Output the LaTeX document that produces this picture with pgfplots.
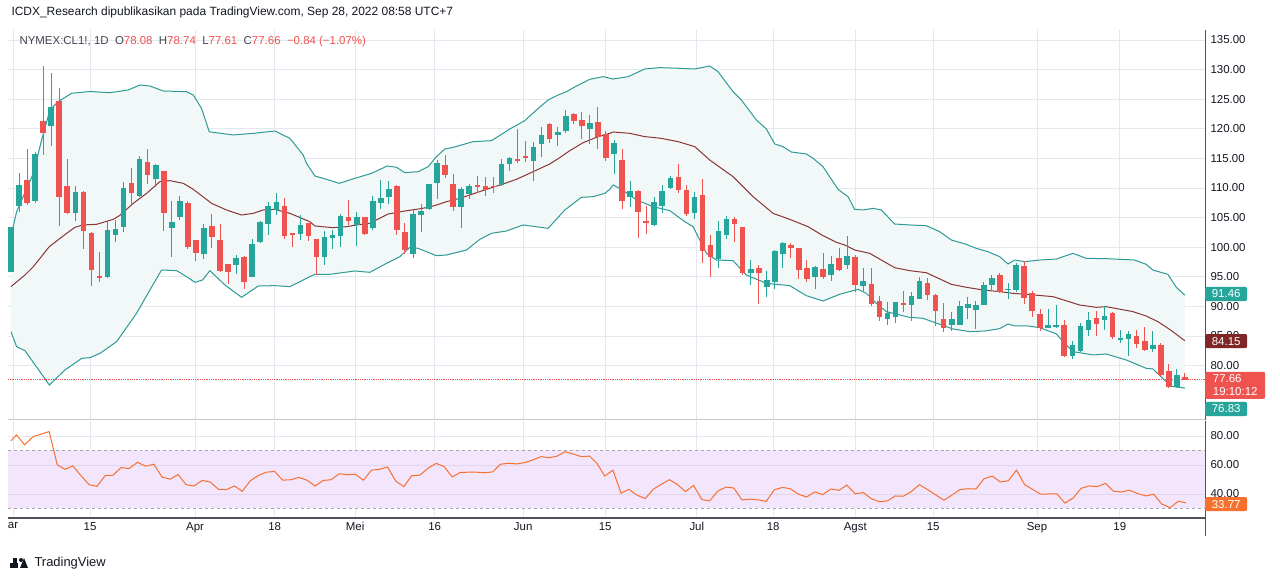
\documentclass[border=0pt]{standalone}
\usepackage{pgfplots}
\usepackage{pgfplotstable}
\usepackage{fontspec}
\setmainfont{Liberation Sans}
\pgfplotsset{compat=1.18}
\definecolor{tvup}{HTML}{26A69A}
\definecolor{tvdn}{HTML}{EF5350}
\definecolor{tvband}{HTML}{2E9A96}
\definecolor{tvmid}{HTML}{8A3535}
\definecolor{tvfill}{HTML}{F2F8F8}
\definecolor{tvgrid}{HTML}{E3E8EF}
\definecolor{tvtxt}{HTML}{131722}
\definecolor{tvrsi}{HTML}{F7702E}
\definecolor{tvrsibg}{HTML}{F3E5FC}
\definecolor{tvdash}{HTML}{A8A5B0}
\definecolor{tvrsigrid}{HTML}{E2D6EE}
\definecolor{tvmidlab}{HTML}{7F2626}
\definecolor{tvaxis}{HTML}{50535E}
% rising candles (close >= open)
\pgfplotstableread{
i o h l c
0 95.87 103.5 95.8 103.47
1 107.02 112.48 106.0 110.51
3 107.86 116.03 107.4 115.75
5 120.53 129.37 117.15 123.63
8 105.84 110.34 104.43 109.38
12 95.03 104.3 94.86 102.91
13 102.1 104.6 100.88 103.08
14 103.47 111.07 102.52 110.0
16 108.65 115.41 108.54 114.85
18 111.58 114.0 110.23 113.89
20 103.3 107.8 98.4 104.2
21 105.1 108.65 104.54 107.75
24 98.8 103.9 97.96 103.2
28 97.0 98.7 95.4 98.1
30 95.03 101.33 95.03 100.55
31 100.83 104.37 100.66 104.26
32 103.98 107.58 102.1 107.02
33 106.3 109.1 105.45 107.58
36 102.23 105.4 101.17 103.75
39 98.4 102.75 97.0 101.67
40 101.61 102.9 99.7 102.0
41 101.95 105.6 100.1 105.27
43 103.75 105.9 100.2 105.05
45 103.2 108.7 102.9 107.8
46 107.53 111.36 106.46 108.26
47 108.54 111.19 107.3 109.84
50 98.86 106.29 98.24 105.6
51 105.44 107.3 102.63 106.18
52 106.46 110.68 106.29 110.62
53 110.9 114.73 108.15 114.28
56 106.85 110.23 103.3 109.84
57 109.0 110.62 108.2 110.4
61 110.51 114.9 110.34 114.0
62 114.06 115.3 112.93 115.13
65 114.62 117.7 111.24 116.87
66 117.44 120.36 115.18 118.9
68 118.96 120.36 117.15 119.4
69 119.69 123.18 119.35 122.17
72 119.97 122.33 117.44 120.93
75 115.75 118.11 112.37 117.66
77 108.54 111.19 106.85 109.5
80 103.75 108.43 103.64 107.58
81 107.02 110.51 105.72 109.5
82 110.06 112.09 109.78 111.64
85 105.84 109.27 104.71 108.43
88 97.96 104.43 96.55 102.75
89 102.07 105.27 101.39 104.77
92 95.7 97.84 93.62 96.32
94 93.34 95.98 91.65 94.46
95 94.18 99.53 92.89 99.42
96 98.8 100.94 96.55 100.77
100 94.91 96.83 92.94 96.6
102 95.3 98.52 94.35 97.1
104 97.0 101.9 96.32 98.52
106 93.45 96.55 92.67 94.29
109 87.88 90.7 86.87 88.83
110 88.27 90.7 87.26 90.7
112 90.24 92.5 87.6 91.82
113 91.26 95.03 91.26 94.29
117 86.87 89.0 85.9 87.94
118 86.87 90.92 86.87 90.07
119 89.79 91.6 87.88 90.41
120 89.4 90.92 86.19 90.24
121 90.24 94.07 90.24 93.62
122 93.62 95.3 92.78 94.86
124 92.83 93.9 91.2 92.94
125 92.78 97.28 92.5 97.0
129 86.42 89.56 86.3 86.87
130 86.58 90.24 86.3 86.87
132 81.69 84.16 81.12 83.49
133 82.53 87.15 82.36 86.7
134 86.02 89.0 85.0 87.71
136 87.71 90.07 86.02 88.38
138 84.33 86.02 83.88 84.61
139 84.5 85.85 81.69 85.29
142 82.81 85.85 82.36 83.49
145 76.34 79.44 76.28 78.42
}\candup
% falling candles (close < open)
\pgfplotstableread{
i o h l c
2 111.36 116.59 107.13 107.53
4 121.38 130.61 115.58 119.35
6 124.7 126.84 103.64 108.54
7 110.34 114.9 105.56 105.84
9 109.27 109.5 99.7 102.8
10 102.35 102.6 93.5 96.15
11 95.14 99.25 94.07 94.86
15 110.79 113.44 107.25 109.22
17 114.4 116.59 110.68 112.26
19 112.82 112.82 102.8 105.84
22 107.5 107.8 99.7 100.0
23 101.22 101.22 97.73 99.08
25 103.58 105.6 99.93 101.78
26 101.17 103.87 95.76 96.04
27 97.1 97.1 93.8 95.87
29 98.35 98.57 92.94 94.2
34 106.96 108.37 101.39 101.95
35 102.4 102.4 99.98 102.23
37 104.15 104.15 101.1 101.95
38 101.39 101.39 95.3 98.4
42 105.05 107.98 103.75 104.5
44 105.05 105.05 102.07 102.23
48 110.4 110.51 102.07 102.91
49 102.5 104.04 98.86 99.53
54 113.89 115.58 111.75 112.2
55 110.68 112.37 106.12 106.85
58 110.57 112.1 109.1 110.23
59 110.4 111.8 108.7 109.67
60 110.4 111.8 109.2 110.23
63 114.9 119.97 114.28 114.73
64 115.41 117.94 114.45 115.13
67 120.76 120.93 117.55 118.28
70 122.5 122.62 120.81 121.38
71 121.49 122.9 118.28 120.48
73 121.15 123.63 116.59 118.68
74 119.12 119.69 114.56 115.13
76 114.73 116.59 106.46 107.86
78 109.5 109.67 101.61 106.0
79 104.43 106.96 102.23 104.15
83 111.8 114.0 109.22 109.67
84 109.67 110.51 105.27 105.6
86 108.82 111.52 97.39 99.42
87 100.38 102.07 95.03 98.4
90 104.77 105.05 100.94 103.92
91 103.42 103.42 95.3 95.7
93 96.55 97.0 90.41 95.59
97 100.38 100.77 98.24 99.81
98 99.81 99.81 94.58 96.15
99 96.55 97.84 94.18 94.58
101 96.32 99.08 94.63 94.91
103 98.12 99.81 96.04 96.15
105 98.4 98.68 92.5 93.62
107 93.79 96.55 90.07 90.41
108 90.92 91.76 87.54 88.27
111 90.52 92.6 89.12 90.24
114 93.9 94.74 91.09 91.93
115 91.93 92.04 86.75 89.23
116 87.88 90.52 85.74 86.42
123 95.3 95.59 92.21 92.38
126 96.83 97.67 90.41 91.48
127 92.21 92.6 88.27 89.28
128 88.72 89.56 85.85 86.42
131 86.87 87.71 81.52 81.69
135 87.99 89.23 85.06 87.04
137 88.83 89.12 84.5 84.78
140 85.01 86.02 83.04 83.66
141 84.16 86.58 82.53 82.64
143 83.49 83.77 78.25 78.42
144 79.1 80.28 76.28 76.45
146 78.08 78.74 77.61 77.66
}\canddn
\pgfplotstableread{
x y
0 101.8
0.7 106.0
2.78 112.48
3.81 118.1
4.85 123.2
5.88 124.6
7.54 126.0
9.82 126.3
12.31 126.1
14.59 126.56
16.04 127.4
17.28 127.23
18.94 126.39
21.84 126.27
22.67 125.71
23.7 123.46
24.66 119.5
27.64 118.96
30.13 119.24
32.82 119.63
34.69 118.39
36.34 115.58
36.76 114.17
37.8 112.03
39.25 111.47
40.82 110.79
42.77 111.64
44.84 112.48
46.79 113.72
47.95 113.5
48.98 112.6
50.64 112.76
51.89 113.61
52.92 115.3
53.96 116.59
54.99 116.87
57.48 117.83
59.76 118.0
62.04 119.97
63.9 121.38
65.35 123.18
66.8 124.87
68.05 125.71
69.08 126.27
70.33 127.23
71.98 128.36
73.64 128.81
74.89 128.41
76.75 128.81
78.82 130.1
80.69 130.33
83.17 130.22
85.04 130.1
86.9 130.61
87.94 129.65
89.8 126.27
90.84 124.87
92.71 121.49
93.95 119.97
94.99 117.44
96.02 116.99
97.06 116.08
98.92 115.75
99.75 115.02
100.99 113.61
102.86 109.78
104.1 108.54
104.93 106.4
105.97 106.29
107.21 106.57
108.25 106.29
109.9 103.92
111.77 103.76
113.84 103.64
115.5 102.63
116.95 101.22
118.82 100.49
120.06 99.81
121.51 99.25
122.96 98.4
124.0 97.17
124.83 97.84
126.07 97.56
127.94 97.84
130.01 98.01
132.08 98.97
133.74 98.12
136.22 98.07
139.74 97.84
141.19 97.11
142.02 96.15
143.89 95.42
144.93 93.23
146.0 91.9
}\bandup
% lower band, in reverse order (from the last day back to the first)
\pgfplotstableread{
x y
146.0 76.2
144.1 76.56
143.68 77.3
142.02 79.44
141.19 79.55
138.71 80.95
136.22 81.97
134.57 81.8
132.08 82.36
131.05 83.77
130.01 85.35
127.94 86.42
126.49 86.7
124.83 86.7
124.0 87.03
122.96 86.25
121.1 85.85
119.23 85.74
117.16 86.19
113.43 87.99
111.77 88.16
110.53 88.55
108.87 89.12
107.62 90.52
106.38 92.21
105.35 92.89
103.07 92.05
100.99 90.92
98.92 91.82
96.85 93.51
93.95 93.9
91.46 95.31
89.8 97.73
87.73 97.84
86.49 98.97
84.83 103.47
83.8 104.32
81.93 106.18
79.86 106.85
77.79 107.98
75.92 109.78
74.89 110.51
74.47 109.78
73.85 109.1
72.4 108.54
70.95 108.43
68.88 106.29
66.8 103.19
63.7 103.76
61.62 102.74
59.76 102.35
58.31 101.33
56.65 99.53
54.17 98.69
52.92 98.57
50.64 99.81
49.61 99.98
48.36 98.4
46.71 97.28
44.63 95.76
42.77 95.99
39.66 95.42
37.8 95.42
37.17 95.03
34.69 93.34
32.82 93.51
30.75 93.45
28.68 91.54
26.61 93.62
24.74 96.04
23.83 94.47
22.88 94.07
21.84 95.03
20.6 96.04
18.73 96.15
17.28 92.78
15.62 88.84
13.14 84.05
11.07 82.08
9.82 81.35
8.79 81.23
6.71 79.26
4.77 76.73
1.74 82.53
0.7 83.2
0 85.74
}\bandlo
% envelope of the bands: upper band forward, then lower band back
\pgfplotstableread{
x y
0 101.8
0.7 106.0
2.78 112.48
3.81 118.1
4.85 123.2
5.88 124.6
7.54 126.0
9.82 126.3
12.31 126.1
14.59 126.56
16.04 127.4
17.28 127.23
18.94 126.39
21.84 126.27
22.67 125.71
23.7 123.46
24.66 119.5
27.64 118.96
30.13 119.24
32.82 119.63
34.69 118.39
36.34 115.58
36.76 114.17
37.8 112.03
39.25 111.47
40.82 110.79
42.77 111.64
44.84 112.48
46.79 113.72
47.95 113.5
48.98 112.6
50.64 112.76
51.89 113.61
52.92 115.3
53.96 116.59
54.99 116.87
57.48 117.83
59.76 118.0
62.04 119.97
63.9 121.38
65.35 123.18
66.8 124.87
68.05 125.71
69.08 126.27
70.33 127.23
71.98 128.36
73.64 128.81
74.89 128.41
76.75 128.81
78.82 130.1
80.69 130.33
83.17 130.22
85.04 130.1
86.9 130.61
87.94 129.65
89.8 126.27
90.84 124.87
92.71 121.49
93.95 119.97
94.99 117.44
96.02 116.99
97.06 116.08
98.92 115.75
99.75 115.02
100.99 113.61
102.86 109.78
104.1 108.54
104.93 106.4
105.97 106.29
107.21 106.57
108.25 106.29
109.9 103.92
111.77 103.76
113.84 103.64
115.5 102.63
116.95 101.22
118.82 100.49
120.06 99.81
121.51 99.25
122.96 98.4
124.0 97.17
124.83 97.84
126.07 97.56
127.94 97.84
130.01 98.01
132.08 98.97
133.74 98.12
136.22 98.07
139.74 97.84
141.19 97.11
142.02 96.15
143.89 95.42
144.93 93.23
146.0 91.9
146.0 76.2
144.1 76.56
143.68 77.3
142.02 79.44
141.19 79.55
138.71 80.95
136.22 81.97
134.57 81.8
132.08 82.36
131.05 83.77
130.01 85.35
127.94 86.42
126.49 86.7
124.83 86.7
124.0 87.03
122.96 86.25
121.1 85.85
119.23 85.74
117.16 86.19
113.43 87.99
111.77 88.16
110.53 88.55
108.87 89.12
107.62 90.52
106.38 92.21
105.35 92.89
103.07 92.05
100.99 90.92
98.92 91.82
96.85 93.51
93.95 93.9
91.46 95.31
89.8 97.73
87.73 97.84
86.49 98.97
84.83 103.47
83.8 104.32
81.93 106.18
79.86 106.85
77.79 107.98
75.92 109.78
74.89 110.51
74.47 109.78
73.85 109.1
72.4 108.54
70.95 108.43
68.88 106.29
66.8 103.19
63.7 103.76
61.62 102.74
59.76 102.35
58.31 101.33
56.65 99.53
54.17 98.69
52.92 98.57
50.64 99.81
49.61 99.98
48.36 98.4
46.71 97.28
44.63 95.76
42.77 95.99
39.66 95.42
37.8 95.42
37.17 95.03
34.69 93.34
32.82 93.51
30.75 93.45
28.68 91.54
26.61 93.62
24.74 96.04
23.83 94.47
22.88 94.07
21.84 95.03
20.6 96.04
18.73 96.15
17.28 92.78
15.62 88.84
13.14 84.05
11.07 82.08
9.82 81.35
8.79 81.23
6.71 79.26
4.77 76.73
1.74 82.53
0.7 83.2
0 85.74
}\bandpoly
\pgfplotstableread{
x y
0 93.34
1.74 95.31
2.78 96.72
4.77 100.1
6.92 102.35
7.96 103.36
8.91 103.76
10.65 103.87
12.72 104.71
13.55 105.39
15.21 107.41
16.87 109.1
18.52 111.07
19.77 111.24
21.43 110.79
22.67 109.78
24.95 107.41
26.81 106.29
28.68 105.44
30.13 105.72
31.37 106.29
32.82 106.4
34.69 105.72
37.17 104.32
37.8 103.59
40.08 103.3
41.73 103.47
42.98 103.76
44.63 104.04
46.91 105.61
48.98 106.12
50.43 106.4
51.89 106.74
52.92 107.13
54.17 107.7
55.82 108.26
57.07 108.82
59.14 109.78
61.21 110.68
62.87 111.47
64.94 112.76
67.01 114.06
68.25 115.13
69.5 116.31
71.16 117.66
72.81 118.56
74.47 119.24
74.89 119.46
76.96 119.24
78.82 118.68
80.89 118.39
82.97 117.83
85.04 116.99
86.9 114.73
89.8 111.92
92.29 108.54
94.78 105.72
96.85 104.71
99.13 103.47
100.99 101.95
102.65 100.83
103.69 100.38
104.93 99.53
106.79 98.97
108.25 97.84
109.9 96.55
111.77 96.04
113.84 95.7
116.95 93.73
118.82 93.23
120.89 92.78
122.96 92.5
124.62 92.21
126.28 92.05
129.6 91.65
132.91 90.24
134.98 89.85
136.22 89.96
139.54 89.12
141.19 88.38
142.64 87.43
144.1 86.13
146.0 84.2
}\bandmid
\pgfplotstableread{
x y
0 76.6
0.68 80.7
1.69 73.9
2.76 79.5
4.75 83.0
5.76 60.0
6.73 57.0
7.7 59.3
8.72 52.5
9.73 46.4
10.7 45.2
11.72 52.7
12.69 52.9
13.7 58.2
14.67 57.5
15.74 61.8
16.76 59.1
17.77 60.5
18.79 51.6
19.81 50.2
20.77 53.4
21.79 46.4
22.76 45.5
23.78 49.3
24.79 48.2
25.81 43.2
26.78 43.0
27.8 45.5
28.76 41.8
29.78 49.1
30.75 52.7
31.77 55.0
32.78 55.5
33.8 49.5
34.82 49.8
35.79 51.4
36.8 49.5
37.82 45.5
38.84 49.3
39.81 49.8
40.82 53.9
41.84 53.2
42.81 53.6
43.83 49.5
44.84 56.4
45.86 57.0
46.83 58.6
47.85 48.9
48.86 45.0
49.83 52.5
50.85 53.0
51.86 57.7
52.88 61.1
53.85 58.9
54.87 51.8
55.88 54.8
56.9 55.0
57.87 55.0
58.89 54.6
59.9 55.2
60.87 60.5
61.89 61.1
62.91 60.7
63.92 61.6
64.89 63.4
65.91 65.7
66.92 65.0
67.94 66.1
68.91 69.1
69.93 67.5
70.94 65.7
71.96 66.1
72.93 60.7
73.84 52.3
74.86 56.4
75.88 40.5
76.85 43.2
77.87 39.1
78.89 36.8
79.86 43.2
80.87 46.6
81.89 49.8
82.86 46.6
83.88 41.6
84.9 45.9
85.92 36.1
86.89 35.2
87.91 42.0
88.92 44.7
89.89 44.1
90.91 35.9
91.93 36.4
92.95 35.9
93.92 34.8
94.94 42.9
95.96 44.5
96.93 43.6
97.94 39.8
98.96 37.9
99.98 41.4
100.95 39.5
101.97 43.4
102.99 42.5
103.96 46.1
104.98 40.2
106.0 40.9
106.97 36.8
107.98 34.6
109.0 35.2
109.97 38.6
110.99 38.4
112.01 41.8
112.98 46.4
114.0 43.0
115.02 39.3
116.03 35.7
117.0 39.1
118.02 43.0
119.04 43.6
120.01 43.4
121.03 50.5
122.05 52.3
123.06 48.2
124.04 49.1
125.06 56.4
126.07 46.4
127.09 43.0
128.06 39.8
129.08 40.0
130.1 40.0
131.07 33.7
132.09 37.1
133.1 43.9
134.12 45.5
135.09 45.0
136.11 47.3
137.13 41.8
138.15 41.4
139.12 42.5
140.14 40.2
141.15 38.6
142.12 39.8
143.14 33.0
144.16 30.5
145.18 35.0
146.15 33.8
}\rsitab
\pgfplotsset{
  chartbase/.style={
    scale only axis, width=1197bp, xmin=-0.37, xmax=148.5,
    axis line style={draw=none}, tick style={draw=none},
    xtick={0.25,9.83,22.9,32.8,42.8,52.7,63.7,73.9,85.3,94.8,105,114.7,127.6,137.9},
    grid=major, major grid style={color=tvgrid, line width=0.8bp},
    yticklabel pos=right,
    yticklabel style={font=\fontsize{11.5}{13}\selectfont, text=tvtxt, xshift=2bp,
      /pgf/number format/fixed, /pgf/number format/fixed zerofill, /pgf/number format/precision=2},
    /pgf/number format/assume math mode=true,
    clip=false,
  },
}
\begin{document}
\begin{tikzpicture}
\path[use as bounding box] (0,0) rectangle (1280bp,581bp);
\fill[white] (0,0) rectangle (1280bp,581bp);
\begin{axis}[chartbase, at={(8bp,161bp)}, anchor=south west, height=390bp,
  ymin=70.82, ymax=136.69, ytick={80,85,...,135}, xticklabels={}]
\addplot[fill=tvfill, draw=none, forget plot] table[x=x,y=y]{\bandpoly};
\addplot[color=tvband, line width=1bp] table[x=x,y=y]{\bandup};
\addplot[color=tvband, line width=1bp] table[x=x,y=y]{\bandlo};
\addplot[color=tvmid, line width=1bp] table[x=x,y=y]{\bandmid};
\addplot[color=tvdn, densely dotted, line width=0.8bp, forget plot] coordinates {(-0.37,77.66) (148.5,77.66)};
\addplot[draw=none, mark=none, forget plot, error bars/.cd, y dir=both, y explicit, error mark=none,
    error bar style={line width=1bp, draw=tvup}]
  table[x=i, y expr=(\thisrow{h}+\thisrow{l})/2, y error expr=(\thisrow{h}-\thisrow{l})/2]{\candup};
\addplot[draw=none, mark=none, forget plot, error bars/.cd, y dir=both, y explicit, error mark=none,
    error bar style={line width=1bp, draw=tvdn}]
  table[x=i, y expr=(\thisrow{h}+\thisrow{l})/2, y error expr=(\thisrow{h}-\thisrow{l})/2]{\canddn};
\addplot[draw=none, mark=none, forget plot, error bars/.cd, y dir=both, y explicit, error mark=none,
    error bar style={line width=5.6bp, draw=tvup}]
  table[x=i, y expr=(\thisrow{o}+\thisrow{c})/2, y error expr={max(abs(\thisrow{c}-\thisrow{o})/2,0.09)}]{\candup};
\addplot[draw=none, mark=none, forget plot, error bars/.cd, y dir=both, y explicit, error mark=none,
    error bar style={line width=5.6bp, draw=tvdn}]
  table[x=i, y expr=(\thisrow{o}+\thisrow{c})/2, y error expr={max(abs(\thisrow{c}-\thisrow{o})/2,0.09)}]{\canddn};
\draw[color=tvaxis, line width=1bp] (rel axis cs:1,0) -- (rel axis cs:1,1);
\draw[color=tvgrid!70!gray, line width=1bp] (rel axis cs:0,0) -- (rel axis cs:1,0);
\node[anchor=west, text=white, rounded corners=2bp, inner xsep=4bp, inner ysep=3bp,
   font=\fontsize{11.5}{13}\selectfont, minimum width=42bp, fill=tvup] at (axis cs:148.5,92.1) {91.46};
\node[anchor=west, text=white, rounded corners=2bp, inner xsep=4bp, inner ysep=3bp,
   font=\fontsize{11.5}{13}\selectfont, minimum width=42bp, fill=tvmidlab] at (axis cs:148.5,84.15) {84.15};
\node[anchor=north west, text=white, rounded corners=2bp, inner xsep=4bp, inner ysep=3bp,
   font=\fontsize{11.5}{13}\selectfont, minimum width=60bp, fill=tvdn, align=left] at (axis cs:148.5,79.0) {77.66\\19:10:12};
\node[anchor=west, text=white, rounded corners=2bp, inner xsep=4bp, inner ysep=3bp,
   font=\fontsize{11.5}{13}\selectfont, minimum width=42bp, fill=tvup] at (axis cs:148.5,72.67) {76.83};
\end{axis}
\begin{axis}[chartbase, at={(8bp,63bp)}, anchor=south west, height=97bp,
  ymin=23.4, ymax=90.3, ytick={40,60,80},
  xticklabels={ar,15,Apr,18,Mei,16,Jun,15,Jul,18,Agst,15,Sep,19},
  xticklabel style={font=\fontsize{11.5}{13}\selectfont, text=tvtxt, yshift=-1bp}]
\addplot[fill=tvrsibg, draw=none, forget plot] coordinates {(-0.37,30) (148.5,30) (148.5,70) (-0.37,70)};
\addplot[color=tvrsigrid, line width=0.8bp, forget plot] coordinates {(-0.37,40) (148.5,40)};
\addplot[color=tvrsigrid, line width=0.8bp, forget plot] coordinates {(-0.37,60) (148.5,60)};
\addplot[color=tvdash, dashed, line width=0.8bp, forget plot] coordinates {(-0.37,70) (148.5,70)};
\addplot[color=tvdash, dashed, line width=0.8bp, forget plot] coordinates {(-0.37,30) (148.5,30)};
\addplot[color=tvrsi, line width=1bp] table[x=x,y=y]{\rsitab};
\draw[color=tvaxis, line width=1bp] (rel axis cs:1,0) -- (rel axis cs:1,1);
\draw[color=tvaxis, line width=1.2bp] (rel axis cs:0,0) -- (rel axis cs:1,0);
\node[anchor=west, fill=tvrsi, text=white, rounded corners=2bp, inner xsep=4bp, inner ysep=3bp,
   font=\fontsize{11.5}{13}\selectfont, minimum width=42bp] at (axis cs:148.5,33.0) {33.77};
\end{axis}
\draw[color=tvaxis, line width=1bp] (1205bp,63bp) -- (1205bp,45bp);
\node[anchor=west, font=\fontsize{12}{14}\selectfont, text=tvtxt] at (8bp,569bp)
  {ICDX\_Research dipublikasikan pada TradingView.com, Sep 28, 2022 08:58 UTC+7};
\node[anchor=west, font=\fontsize{11.5}{13}\selectfont, text=tvtxt!80] at (16bp,539bp)
  {NYMEX:CL1!, 1D\ \ O\textcolor{tvdn}{78.08}\ \ H\textcolor{tvdn}{78.74}\ \ L\textcolor{tvdn}{77.61}\ \ C\textcolor{tvdn}{77.66}\ \ \textcolor{tvdn}{−0.84 (−1.07\%)}};
\fill[color=tvtxt] (10bp,13bp) rectangle (18bp,18bp);
\fill[color=tvtxt] (13bp,13bp) rectangle (17bp,23bp);
\fill[color=tvtxt] (21bp,21bp) circle (2bp);
\fill[color=tvtxt] (20bp,13bp) -- (24bp,23bp) -- (28bp,13bp) -- cycle;
\node[anchor=west, font=\fontsize{13}{15}\selectfont, text=tvtxt] at (31bp,18bp) {TradingView};
\end{tikzpicture}
\end{document}
